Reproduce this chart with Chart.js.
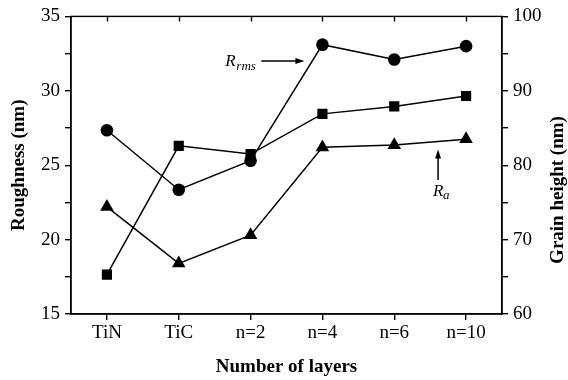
<!DOCTYPE html>
<html>
<head>
<meta charset="utf-8">
<script src="https://cdn.jsdelivr.net/npm/chart.js@4.4.0/dist/chart.umd.min.js"></script>
<style>
html,body{margin:0;padding:0;background:#fff;}
canvas{display:block;}
</style>
</head>
<body>
<canvas id="c" width="568" height="380"></canvas>
<script>
// valores
const layers = ['TiN', 'TiC', 'n=2', 'n=4', 'n=6', 'n=10'];
const rmsRough = [27.35, 23.35, 25.3, 33.1, 32.1, 33.0];   // circulos, eixo esquerdo
const raRough = [22.2, 18.4, 20.3, 26.2, 26.35, 26.75];     // triangulos, eixo esquerdo
const grainHeight = [65.3, 82.6, 81.5, 86.9, 87.9, 89.3];   // quadrados, eixo direito
const leftTicks = [15, 20, 25, 30, 35];
const rightTicks = [60, 70, 80, 90, 100];

const SERIF = '"Liberation Serif", "Times New Roman", serif';

function serie(data, style, r, axis){
  return {
    data, yAxisID: axis,
    borderColor:'#000', backgroundColor:'#000', borderWidth:1.5,
    pointStyle:style, pointRadius:r, pointHoverRadius:r,
    pointBorderColor:'#000', pointBackgroundColor:'#000', pointBorderWidth:0,
    tension:0, fill:false
  };
}

// moldura, ticks do topo, titulo direito e anotacoes
const extras = {
  id:'extras',
  beforeDraw(chart){
    const c = chart.ctx;
    c.save(); c.fillStyle='#fff'; c.fillRect(0,0,chart.width,chart.height); c.restore();
  },
  afterDraw(chart){
    const c = chart.ctx, a = chart.chartArea;
    const x = chart.scales.x, y = chart.scales.y;
    c.save();
    c.strokeStyle='#000'; c.lineWidth=1.4;
    c.strokeRect(a.left, a.top, a.right-a.left, a.bottom-a.top);
    c.beginPath();
    for(let i=0;i<layers.length;i++){
      const px = Math.round(x.getPixelForValue(i))+0.5;
      c.moveTo(px, a.top); c.lineTo(px, a.top+5);
    }
    c.stroke();

    // titulo do eixo direito (lido de baixo para cima)
    c.fillStyle='#000';
    c.font = 'bold 19px '+SERIF;
    c.textAlign='center'; c.textBaseline='middle';
    c.translate(558, 190); c.rotate(-Math.PI/2);
    c.fillText('Grain height (nm)', 0, 0);
    c.setTransform(1,0,0,1,0,0);

    // R_rms com seta
    const ay = y.getPixelForValue(32);
    const x0 = x.getPixelForValue(2.15), x1 = x.getPixelForValue(2.75);
    c.lineWidth=1.5;
    c.beginPath(); c.moveTo(x0, ay); c.lineTo(x1-6, ay); c.stroke();
    c.beginPath(); c.moveTo(x1, ay); c.lineTo(x1-9, ay-3); c.lineTo(x1-9, ay+3); c.closePath(); c.fill();
    c.textBaseline='alphabetic'; c.textAlign='left';
    c.font='italic 17px '+SERIF;
    const rx = x0 - 36;
    c.fillText('R', rx, ay+5);
    c.font='italic 13px '+SERIF;
    c.fillText('rms', rx+11, ay+9);

    // R_a com seta
    const bx = x.getPixelForValue(4.61);
    const t0 = y.getPixelForValue(26.05), t1 = y.getPixelForValue(24.0);
    c.beginPath(); c.moveTo(bx, t0+6); c.lineTo(bx, t1); c.stroke();
    c.beginPath(); c.moveTo(bx, t0); c.lineTo(bx-3, t0+9); c.lineTo(bx+3, t0+9); c.closePath(); c.fill();
    c.font='italic 17px '+SERIF;
    c.fillText('R', bx-5, t1+16);
    c.font='italic 13px '+SERIF;
    c.fillText('a', bx+5, t1+19);
    c.restore();
  }
};

new Chart(document.getElementById('c').getContext('2d'), {
  type:'line',
  data:{
    labels: layers,
    datasets:[
      serie(rmsRough, 'circle', 6.3, 'y'),
      serie(grainHeight, 'rect', 7.2, 'y1'),
      serie(raRough, 'triangle', 7.8, 'y')
    ]
  },
  options:{
    responsive:false, animation:false,
    layout:{ padding:{ top:15, left:0, right:0, bottom:0 } },
    plugins:{ legend:{display:false}, tooltip:{enabled:false} },
    scales:{
      x:{
        offset:true,
        grid:{ display:true, drawOnChartArea:false, drawTicks:true, tickLength:6, offset:false, color:'#000', lineWidth:1.4 },
        border:{ display:true, color:'#000', width:1.4 },
        ticks:{ color:'#000', font:{ family:SERIF, size:19 }, padding:2, maxRotation:0 },
        title:{ display:true, text:'Number of layers', color:'#000', font:{ family:SERIF, size:19, weight:'bold' }, padding:{top:0,bottom:2} },
        afterFit(s){ s.height = 66; }
      },
      y:{
        position:'left', min:leftTicks[0], max:leftTicks[leftTicks.length-1],
        grid:{ drawOnChartArea:false, drawTicks:true, tickLength:6, color:'#000', lineWidth:1.4 },
        border:{ display:true, color:'#000', width:1.4 },
        ticks:{ stepSize:2.5, color:'#000', font:{ family:SERIF, size:19 }, padding:5,
          callback:v => leftTicks.includes(v) ? v : '' },
        title:{ display:true, text:'Roughness (nm)', color:'#000', font:{ family:SERIF, size:19, weight:'bold' }, padding:{top:8,bottom:0} },
        afterFit(s){ s.width = 71; }
      },
      y1:{
        position:'right', min:rightTicks[0], max:rightTicks[rightTicks.length-1],
        grid:{ drawOnChartArea:false, drawTicks:true, tickLength:6, color:'#000', lineWidth:1.4 },
        border:{ display:true, color:'#000', width:1.4 },
        ticks:{ stepSize:5, color:'#000', font:{ family:SERIF, size:19 }, padding:5,
          callback:v => rightTicks.includes(v) ? v : '' },
        afterFit(s){ s.width = 66; }
      }
    }
  },
  plugins:[extras]
});
</script>
</body>
</html>
